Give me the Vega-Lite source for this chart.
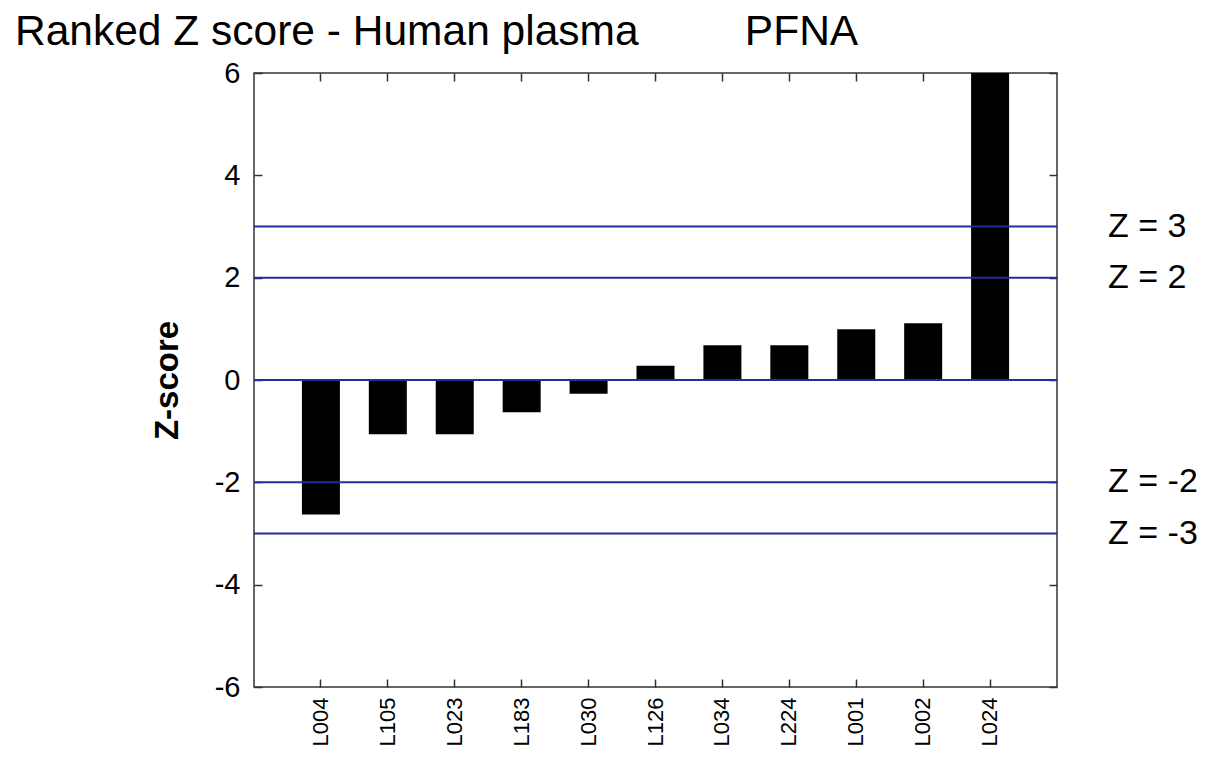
{
  "$schema": "https://vega.github.io/schema/vega-lite/v6.json",
  "width": 803,
  "height": 614,
  "autosize": {"type": "none"},
  "padding": {"left": 254, "top": 73, "right": 168, "bottom": 80},
  "background": "white",
  "config": {
    "font": "Liberation Sans",
    "view": {"stroke": "#333", "strokeWidth": 1.5},
    "axis": {"domain": false, "grid": false, "tickColor": "#333", "tickWidth": 1.5, "tickSize": -8, "labelColor": "#000", "titleColor": "#000"}
  },
  "title": {
    "text": "Ranked Z score - Human plasma\u00a0\u00a0\u00a0\u00a0\u00a0\u00a0\u00a0\u00a0\u00a0PFNA",
    "anchor": "start",
    "frame": "group",
    "dx": -239,
    "dy": 57,
    "offset": 20,
    "baseline": "bottom",
    "fontSize": 42.5,
    "fontWeight": "normal",
    "color": "#000"
  },
  "layer": [
    {
      "data": {"values": [
        {"lab": "L004", "z": -2.63},
        {"lab": "L105", "z": -1.06},
        {"lab": "L023", "z": -1.06},
        {"lab": "L183", "z": -0.63},
        {"lab": "L030", "z": -0.27},
        {"lab": "L126", "z": 0.28},
        {"lab": "L034", "z": 0.68},
        {"lab": "L224", "z": 0.68},
        {"lab": "L001", "z": 0.99},
        {"lab": "L002", "z": 1.11},
        {"lab": "L024", "z": 6.0}
      ]},
      "mark": {"type": "bar", "width": 38, "color": "#000", "clip": true},
      "encoding": {
        "x": {"field": "lab", "type": "nominal", "sort": null,
              "scale": {"paddingInner": 0, "paddingOuter": 0.5},
              "axis": {"orient": "bottom", "title": null, "labelAngle": -90, "labelFontSize": 22, "labelPadding": 18}},
        "y": {"field": "z", "type": "quantitative",
              "scale": {"domain": [-6, 6], "nice": false, "zero": false},
              "axis": {"orient": "left", "values": [-6, -4, -2, 0, 2, 4, 6], "labelExpr": "datum.value < 0 ? '-' + abs(datum.value) : '' + datum.value", "title": "Z-score", "titleFontSize": 33, "titleFontWeight": "bold", "titlePadding": 30, "labelFontSize": 29, "labelPadding": 22}}
      }
    },
    {
      "data": {"values": [
        {"z": 3, "t": "Z = 3"},
        {"z": 2, "t": "Z = 2"},
        {"z": 0, "t": ""},
        {"z": -2, "t": "Z = -2"},
        {"z": -3, "t": "Z = -3"}
      ]},
      "mark": {"type": "rule", "color": "#2a2a9e", "strokeWidth": 2},
      "encoding": {"y": {"field": "z", "type": "quantitative", "axis": null}}
    },
    {
      "data": {"values": [
        {"z": 3, "t": "Z = 3"},
        {"z": 2, "t": "Z = 2"},
        {"z": -2, "t": "Z = -2"},
        {"z": -3, "t": "Z = -3"}
      ]},
      "mark": {"type": "text", "align": "left", "baseline": "middle", "dx": 118, "fontSize": 34, "color": "#000"},
      "encoding": {
        "x": {"datum": "L024", "type": "nominal", "axis": {"orient": "top", "labels": false, "title": null}},
        "y": {"field": "z", "type": "quantitative", "axis": {"orient": "right", "labels": false, "title": null, "values": [-6, -4, -2, 0, 2, 4, 6]}},
        "text": {"field": "t"}
      }
    }
  ],
  "resolve": {"axis": {"x": "independent", "y": "independent"}}
}
